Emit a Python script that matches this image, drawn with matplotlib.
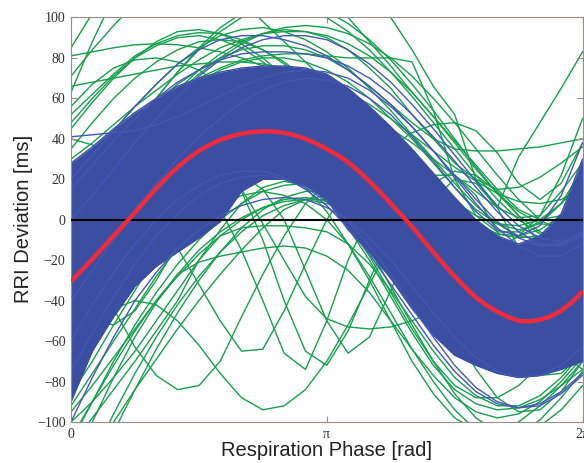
import numpy as np
import matplotlib.pyplot as plt

# respiration phase nodes, 0 .. 2*pi in steps of pi/12 (curves) and pi/24 (mean)
phase = np.linspace(0, 2 * np.pi, 25)
phase_fine = np.linspace(0, 2 * np.pi, 49)

# group mean RRI deviation [ms] (red)
red_mean = [-30.5, -25, -19.5, -13.8, -8, -2.2, 3.5, 9.6, 15.5, 21, 26, 30.3, 34,
            37, 39.5, 41.2, 42.5, 43.3, 43.7, 43.6, 43, 41.7, 40, 37.7, 35,
            32, 28.5, 24, 19, 13.7, 8, 2.3, -3.5, -9.8, -16, -22.2, -28,
            -33.5, -38.5, -42.3, -45.5, -48, -50, -50.3, -49.5, -47.8, -45, -40.8, -35.5]

# dense core of the individual (blue) curves
band_upper = [28, 36, 45, 53, 60, 66, 70, 73, 75, 76, 76, 75, 72, 65, 56, 46,
              35, 23, 11, 0, -8, -12, -8, 3, 30]
band_lower = [-90, -65, -48, -33, -23, -16, -9, -1, 14, 20, 20, 17, 10, -5, -16,
              -29, -44, -57, -67, -72, -76, -78, -77, -74, -70]

# single blue curves at the edge of the core
blue_lines = [
    [20, 32, 44, 56, 67, 77, 84, 89, 91, 91, 89, 86, 81, 74, 66, 57, 46, 34, 22, 10, -1, -9, -13, -12, -6],
    [41, 42, 43, 44, 47, 51, 56, 61, 66, 70, 73, 74, 73, 70, 64, 56, 46, 34, 21, 8, -4, -13, -18, -18, -12],
    [15, 27, 39, 50, 60, 68, 74, 79, 82, 83, 83, 82, 80, 76, 70, 62, 52, 41, 29, 16, 4, -6, -12, -13, -8],
    [0, 12, 25, 38, 50, 61, 71, 79, 85, 89, 91, 91, 89, 84, 77, 68, 57, 45, 32, 19, 7, -3, -9, -11, -7],
    [-100, -78, -58, -40, -26, -14, -5, 2, 7, 10, 11, 10, 6, 0, -9, -20, -33, -46, -58, -68, -75, -78, -77, -72, -63],
    [-60, -42, -26, -12, 0, 10, 17, 22, 24, 24, 21, 15, 7, -4, -17, -32, -47, -62, -75, -85, -91, -93, -91, -85, -76],
    [-75, -56, -38, -22, -8, 3, 12, 18, 21, 22, 20, 16, 9, -1, -13, -27, -43, -58, -72, -83, -90, -93, -92, -86, -77],
    [-40, -25, -10, 5, 18, 30, 41, 50, 58, 64, 68, 70, 69, 66, 60, 52, 41, 29, 16, 4, -5, -8, -3, 12, 38],
]

# green curves, upper left part of the plot
green_upper = [
    [63, 88, 110, 128, 142, 152, 158, 160, 158, 153, 145, 134, 125, 118, 110, 100, 84, 66, 52, 20, 6, 31, 48, 65, 83],
    [71, 84, 96, 107, 116, 123, 128, 131, 132, 131, 128, 123, 113, 100, 88, 76, 63, 51, 39, 27, 15, 5, 0, 2, 10],
    [85, 102, 115, 124, 128, 128, 124, 117, 108, 98, 88, 78, 68, 58, 48, 38, 28, 18, 9, 2, -2, -3, 0, 8, 20],
    [81, 83, 85, 86.5, 87, 86.5, 85, 83, 80, 76, 71, 65, 58, 50, 41, 32, 22, 13, 5, -2, -7, -9, -8, -3, 6],
    [45, 58, 70, 80, 88, 93, 94, 92, 87, 80, 71, 61, 50, 39, 28, 17, 7, -2, -10, -15, -17, -15, -9, 0, 12],
    [52, 62, 72, 81, 87, 91, 92.5, 92, 89, 84, 77, 69, 60, 50, 40, 30, 20, 11, 3, -3, -7, -8, -5, 2, 14],
    [56, 67, 75, 79, 80, 78, 74, 67, 59, 50, 40, 30, 20, 10, 1, -7, -13, -18, -20, -19, -15, -8, 2, 14, 28],
    [66, 68, 70, 72, 74, 76, 77, 78, 78, 77, 75, 72, 68, 63, 57, 50, 42, 34, 26, 19, 13, 9, 8, 10, 15],
    [30, 38, 47, 56, 64, 72, 79, 85, 89, 92, 93, 93, 91, 87, 81, 73, 63, 51, 38, 25, 13, 4, -2, -3, 2],
    [20, 28, 37, 46, 55, 63, 70, 75, 79, 81, 82, 82, 81, 80, 80, 80, 78, 54, 20, 2, -6, -6, -1, 8, 20],
    [10, 20, 31, 42, 53, 63, 72, 80, 87, 92, 95, 96, 95, 92, 87, 80, 71, 60, 48, 35, 22, 10, 0, -6, -8],
    [5, 18, 32, 46, 60, 73, 84, 93, 100, 105, 107, 106, 103, 97, 89, 79, 67, 54, 40, 26, 13, 2, -6, -10, -10],
    [48, 60, 71, 80, 86, 90, 91, 89, 85, 78, 70, 60, 49, 38, 27, 16, 6, -3, -10, -15, -17, -15, -10, -1, 12],
    [35, 48, 60, 70, 78, 84, 88, 89, 88, 84, 78, 70, 61, 51, 40, 29, 18, 8, -1, -8, -12, -13, -10, -3, 8],
    [20, 32, 44, 56, 67, 77, 85, 91, 94, 95, 93, 89, 83, 75, 65, 54, 42, 30, 18, 7, -2, -8, -10, -8, -2],
    [0, 15, 30, 45, 60, 73, 85, 95, 102, 106, 107, 105, 100, 93, 84, 73, 61, 48, 35, 22, 10, 0, -7, -11, -11],
]

# green curves with their trough on the right
green_right = [
    [18, 30, 40, 47, 50, 50, 47, 42, 36, 30, 25, 22, 22, 25, 30, 36, 43, 47, 48, 44, 33, 18, 10, 18, 38],
    [16, 27, 38, 48, 58, 67, 74, 80, 84, 86, 86, 84, 80, 74, 66, 57, 48, 40, 35, 34, 34, 35, 36, 38, 40],
    [3, 15, 27, 39, 50, 60, 68, 74, 78, 80, 80, 78, 74, 68, 60, 50, 40, 28, 16, 5, -2, -5, -2, 8, 25],
    [5, 17, 29, 41, 53, 64, 74, 82, 88, 92, 94, 93, 90, 84, 75, 65, 52, 40, 28, 20, 15, 16, 21, 28, 36],
    [0, 11, 22, 33, 43, 52, 60, 66, 70, 72, 72, 70, 66, 60, 52, 45, 38, 30, 22, 14, 6, 1, 2, 22, 50],
]

# green curves, lower part of the plot
green_lower = [
    [-125, -100, -78, -58, -41, -27, -15, -6, 1, 6, 9, 10, 8, 4, -2, -10, -19, -29, -39, -48, -55, -59, -60, -57, -50],
    [-140, -118, -96, -76, -58, -42, -28, -16, -6, 2, 7, 10, 10, 8, 3, -4, -13, -23, -34, -45, -54, -60, -62, -60, -53],
    [-140, -120, -100, -84, -69, -54, -40, -27, -15, -4, 5, 10, 12, 2, -14, -33, -52, -70, -86, -98, -105, -106, -102, -94, -82],
    [0, -20, -44, -63, -77, -84, -82, -70, -48, -27, -8, 8, 18, 20, 14, 2, -15, -35, -55, -74, -88, -95, -94, -85, -70],
    [40, 37, 30, 18, 3, -14, -32, -50, -65, -64, -45, -22, 0, 16, 24, 22, 12, -4, -22, -40, -55, -64, -66, -60, -48],
    [-52, -38, -20, -2, 12, 20, 18, 5, -15, -40, -66, -74, -50, -20, 3, 15, 15, 5, -12, -32, -52, -68, -77, -76, -66],
    [-40, -50, -52, -45, -30, -12, 6, 18, 22, 15, 0, -25, -50, -66, -58, -35, -10, 10, 20, 18, 6, -14, -36, -56, -68],
    [-62, -48, -28, -6, 14, 28, 33, 28, 14, -10, -40, -65, -72, -55, -30, -6, 12, 22, 22, 12, -6, -28, -50, -66, -74],
    [-8, 6, 18, 28, 35, 38, 35, 28, 15, -2, -20, -38, -49, -53, -54, -53, -50, -45, -40, -36, -35, -37, -42, -50, -58],
    [-100, -90, -78, -65, -50, -35, -20, -5, 8, 16, 19, 17, 10, -2, -18, -36, -54, -70, -82, -88, -88, -82, -72, -58, -44],
    [-112, -98, -84, -70, -55, -40, -20, -8, -4, -3, -3, -4, -6, -12, -22, -35, -50, -65, -78, -87, -92, -92, -87, -78, -66],
    [-108, -90, -72, -55, -40, -27, -21, -18, -16, -14, -13, -14, -18, -25, -36, -50, -64, -77, -88, -95, -98, -96, -90, -80, -68],
    [-86, -70, -52, -35, -18, -3, 10, 20, 26, 28, 26, 20, 10, -4, -20, -38, -56, -72, -84, -91, -94, -93, -89, -82, -74],
    [-80, -62, -44, -26, -10, 4, 16, 24, 28, 28, 24, 16, 4, -12, -30, -50, -70, -86, -98, -104, -105, -100, -92, -82, -70],
    [-110, -90, -70, -52, -36, -22, -10, 0, 8, 14, 17, 18, 16, 11, 4, -6, -18, -31, -44, -56, -65, -70, -71, -67, -58],
    [-92, -76, -60, -44, -28, -14, -2, 7, 12, 14, 12, 8, 0, -12, -28, -46, -64, -80, -94, -104, -108, -106, -99, -88, -75],
    [-150, -128, -105, -84, -64, -46, -30, -16, -4, 5, 11, 14, 14, 11, 5, -3, -13, -25, -37, -49, -58, -64, -66, -63, -55],
    [-95, -82, -68, -54, -40, -28, -17, -8, 0, 6, 10, 11, 9, 4, -3, -12, -23, -35, -47, -58, -66, -70, -70, -65, -56],
    [-75, -55, -44, -40, -42, -50, -62, -76, -88, -94, -92, -84, -70, -52, -32, -12, 6, 18, 24, 22, 14, 2, -12, -26, -38],
]

GREEN = '#16a04c'
BLUE = '#3b4fa2'
BLUE_LINE = '#4358b4'
RED = '#ef2b3b'
FRAME = '#9c8c84'

fig = plt.figure(figsize=(5.84, 4.63), dpi=100)
ax = fig.add_axes([0.1216, 0.0886, 0.8759, 0.8737])

for curve in green_upper + green_right + green_lower:
    ax.plot(phase, curve, color=GREEN, lw=1.0, zorder=1)

ax.fill_between(phase, band_lower, band_upper, color=BLUE, lw=0, zorder=2)
ax.plot(phase, band_upper, color=BLUE, lw=1.0, zorder=2)
ax.plot(phase, band_lower, color=BLUE, lw=1.0, zorder=2)
for curve in blue_lines:
    ax.plot(phase, curve, color=BLUE_LINE, lw=1.0, zorder=2.5)

ax.axhline(0, color='black', lw=1.5, zorder=3)
ax.plot(phase_fine, red_mean, color=RED, lw=3.2, zorder=4, solid_capstyle='butt')

ax.set_xlim(0, 2 * np.pi)
ax.set_ylim(-100, 100)
ax.set_xticks([0, np.pi, 2 * np.pi])
ax.set_xticklabels(['0', 'π', '2π'])
ax.set_yticks(np.arange(-100, 101, 20))
for lbl in ax.get_xticklabels() + ax.get_yticklabels():
    lbl.set_family('Liberation Serif')
    lbl.set_fontsize(10)
    lbl.set_color('#333333')
ax.tick_params(direction='in', top=True, right=True, length=4, width=0.8,
               color=FRAME, pad=4)
for sp in ax.spines.values():
    sp.set_color(FRAME)
    sp.set_linewidth(0.8)

fig.text(326.5 / 584, 1 - 450 / 463, 'Respiration Phase [rad]', ha='center', va='center',
         family='Liberation Sans', fontsize=14.5, color='#222222')
fig.text(24 / 584, 1 - 219 / 463, 'RRI Deviation [ms]', ha='center', va='center',
         rotation=90, family='Liberation Sans', fontsize=14.5, color='#222222')

fig.savefig('out.png', dpi=100)
